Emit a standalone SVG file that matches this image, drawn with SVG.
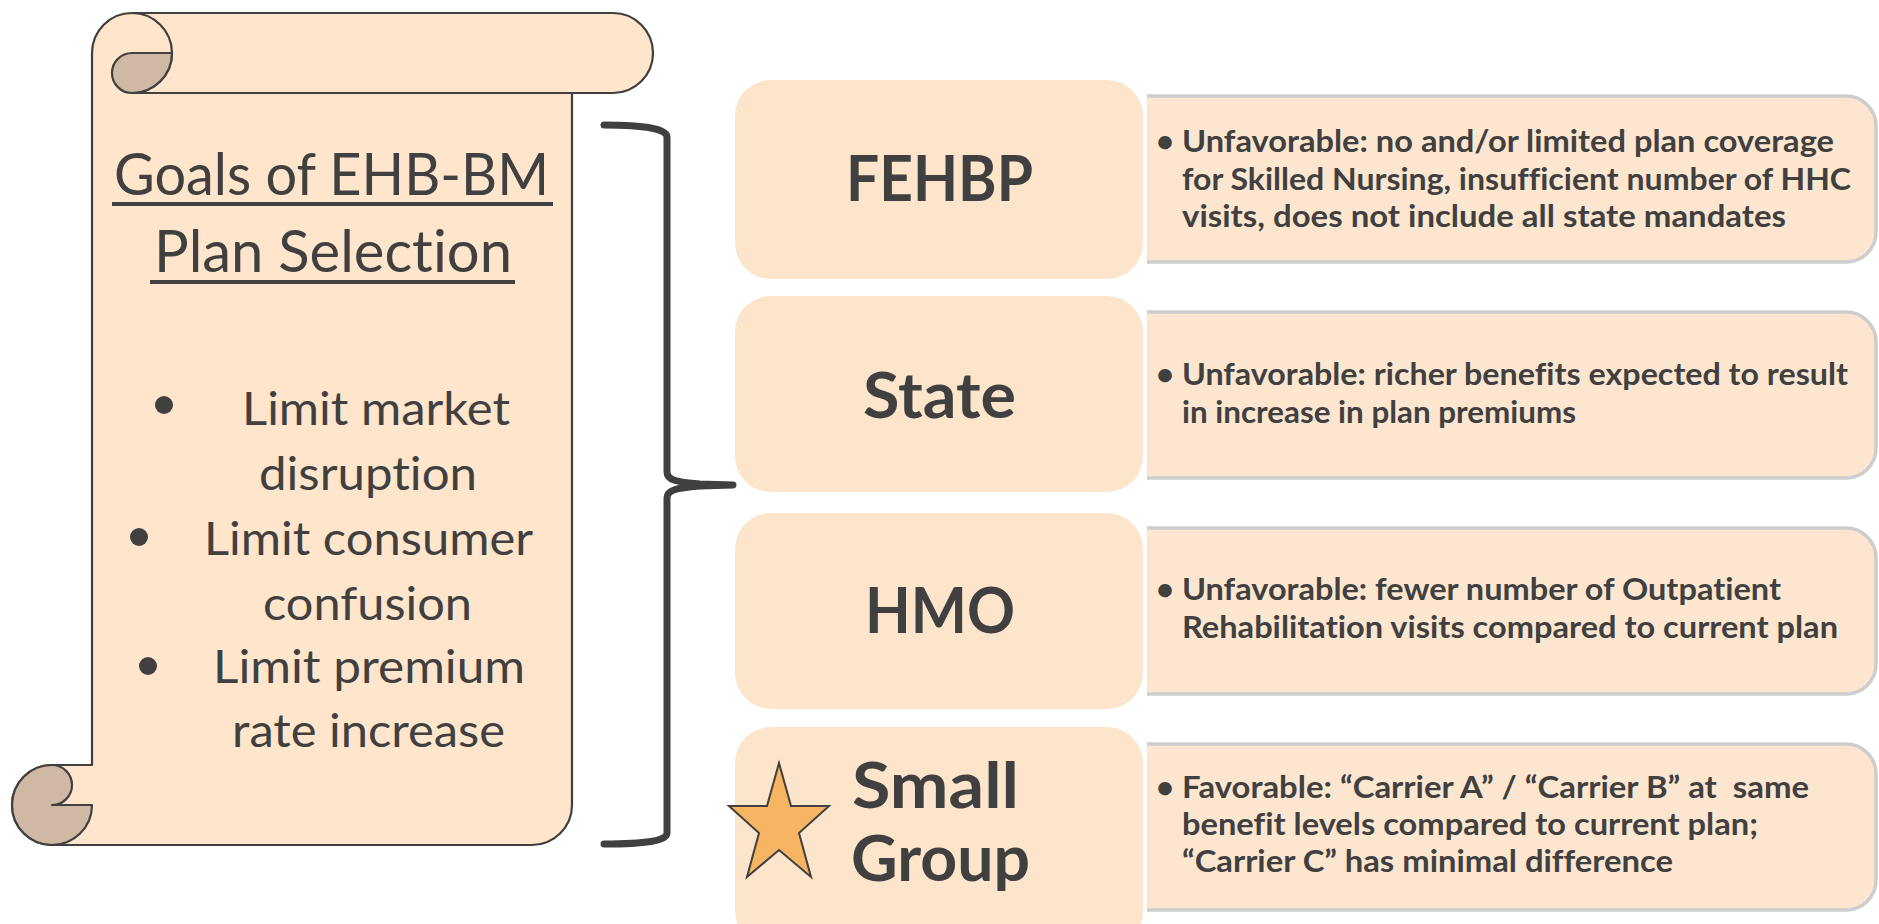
<svg xmlns="http://www.w3.org/2000/svg" width="1879" height="924" viewBox="0 0 1879 924">
<style>
  text{font-variant-ligatures:none;font-feature-settings:"liga" 0,"clig" 0}
  .scroll{fill:#fee5cc;stroke:#404040;stroke-width:2.2;stroke-linejoin:round}
  .curl{fill:#cfb9a5;stroke:#404040;stroke-width:2.2;stroke-linejoin:round}
  .ln{fill:none;stroke:#404040;stroke-width:2.2}
  .title{font-family:Lato,"Liberation Sans",sans-serif;font-size:58px;fill:#404040}
  .goal{font-family:Lato,"Liberation Sans",sans-serif;font-size:46px;fill:#404040}
  .label{font-family:Lato,"Liberation Sans",sans-serif;font-weight:700;font-size:64px;fill:#404040}
  .desc{font-family:Lato,"Liberation Sans",sans-serif;font-weight:700;font-size:31px;fill:#404040}
  .lbox{fill:#fde5cc}
  .tfill{fill:#fde6d0}
  .tedge{fill:none;stroke:#cdcdcd;stroke-width:3.5}
  .brace{fill:none;stroke:#404040;stroke-width:7;stroke-linecap:round;stroke-linejoin:round}
</style>

<g id="scroll">
  <path class="scroll" d="M132,13 L613,13 A40,40 0 0 1 613,93 L572,93 L572,805 A40,40 0 0 1 532,845 L52,845 A40,40 0 0 1 12,805 A40,40 0 0 1 52,765 L92,765 L92,53 A40,40 0 0 1 132,13 Z"/>
  <path class="ln" d="M132,93 L572,93"/>
  <path class="ln" d="M132,13 A40,40 0 0 1 132,93"/>
  <path class="curl" d="M132,53 L172,53 A40,40 0 0 1 132,93 A20,20 0 0 1 132,53 Z"/>
  <path class="curl" d="M52,765 A40,40 0 0 0 52,845 A40,40 0 0 0 92,805 L52,805 A20,20 0 0 0 52,765 Z"/>
  <text class="title" x="114" y="195" textLength="435" lengthAdjust="spacingAndGlyphs">Goals of EHB-BM</text>
  <rect x="112" y="202" width="441" height="4" fill="#404040"/>
  <text class="title" x="154" y="272" textLength="358" lengthAdjust="spacingAndGlyphs">Plan Selection</text>
  <rect x="150" y="280" width="365" height="4" fill="#404040"/>
  <circle cx="164" cy="405" r="9" fill="#404040"/>
  <text class="goal" x="242" y="425" textLength="268" lengthAdjust="spacingAndGlyphs">Limit market</text>
  <text class="goal" x="259" y="490" textLength="218" lengthAdjust="spacingAndGlyphs">disruption</text>
  <circle cx="139" cy="537" r="9" fill="#404040"/>
  <text class="goal" x="204" y="555" textLength="329" lengthAdjust="spacingAndGlyphs">Limit consumer</text>
  <text class="goal" x="263" y="620" textLength="209" lengthAdjust="spacingAndGlyphs">confusion</text>
  <circle cx="148" cy="666" r="9" fill="#404040"/>
  <text class="goal" x="213" y="683" textLength="312" lengthAdjust="spacingAndGlyphs">Limit premium</text>
  <text class="goal" x="232" y="747" textLength="273" lengthAdjust="spacingAndGlyphs">rate increase</text>
</g>

<g id="connectors">
  <path class="brace" d="M604,125 C645,125 667,129 667,137 L667,472 C667,480 676,482 700,484 L733,485 L700,486 C676,488 667,490 667,498 L667,833 C667,841 645,844 604,844"/>
</g>

<g id="fehbp">
  <rect class="lbox" x="735" y="80" width="408" height="199" rx="36" ry="36"/>
  <text class="label" x="846" y="201" textLength="187" lengthAdjust="spacingAndGlyphs">FEHBP</text>
</g>
<g id="fehbp-desc">
  <path class="tfill" d="M1147,96 L1846,96 A30,30 0 0 1 1876,126 L1876,232 A30,30 0 0 1 1846,262 L1147,262 Z"/>
  <path class="tedge" d="M1147,96 L1846,96 A30,30 0 0 1 1876,126 L1876,232 A30,30 0 0 1 1846,262 L1147,262"/>
  <text class="desc" x="1156" y="152">•</text>
  <text class="desc" x="1182" y="152" textLength="652" lengthAdjust="spacingAndGlyphs">Unfavorable: no and/or limited plan coverage</text>
  <text class="desc" x="1182" y="190" textLength="669" lengthAdjust="spacingAndGlyphs">for Skilled Nursing, insufficient number of HHC</text>
  <text class="desc" x="1182" y="227" textLength="604" lengthAdjust="spacingAndGlyphs">visits, does not include all state mandates</text>
</g>

<g id="state">
  <rect class="lbox" x="735" y="296" width="408" height="196" rx="36" ry="36"/>
  <text class="label" x="863" y="418" textLength="153" lengthAdjust="spacingAndGlyphs">State</text>
</g>
<g id="state-desc">
  <path class="tfill" d="M1147,312 L1846,312 A30,30 0 0 1 1876,342 L1876,448 A30,30 0 0 1 1846,478 L1147,478 Z"/>
  <path class="tedge" d="M1147,312 L1846,312 A30,30 0 0 1 1876,342 L1876,448 A30,30 0 0 1 1846,478 L1147,478"/>
  <text class="desc" x="1156" y="385">•</text>
  <text class="desc" x="1182" y="385" textLength="666" lengthAdjust="spacingAndGlyphs">Unfavorable: richer benefits expected to result</text>
  <text class="desc" x="1182" y="423" textLength="394" lengthAdjust="spacingAndGlyphs">in increase in plan premiums</text>
</g>

<g id="hmo">
  <rect class="lbox" x="735" y="513" width="408" height="196" rx="36" ry="36"/>
  <text class="label" x="865" y="633" textLength="150" lengthAdjust="spacingAndGlyphs">HMO</text>
</g>
<g id="hmo-desc">
  <path class="tfill" d="M1147,528 L1846,528 A30,30 0 0 1 1876,558 L1876,664 A30,30 0 0 1 1846,694 L1147,694 Z"/>
  <path class="tedge" d="M1147,528 L1846,528 A30,30 0 0 1 1876,558 L1876,664 A30,30 0 0 1 1846,694 L1147,694"/>
  <text class="desc" x="1156" y="600">•</text>
  <text class="desc" x="1182" y="600" textLength="599" lengthAdjust="spacingAndGlyphs">Unfavorable: fewer number of Outpatient</text>
  <text class="desc" x="1182" y="638" textLength="656" lengthAdjust="spacingAndGlyphs">Rehabilitation visits compared to current plan</text>
</g>

<g id="small-group">
  <rect class="lbox" x="735" y="727" width="408" height="220" rx="36" ry="36"/>
  <polygon points="779,763 791,806 829,806 799,833 811,877 779,850 747,877 759,833 729,806 767,806" fill="#f7b462" stroke="#404040" stroke-width="2" stroke-linejoin="miter"/>
  <text class="label" x="852" y="808" textLength="167" lengthAdjust="spacingAndGlyphs">Small</text>
  <text class="label" x="851" y="881" textLength="179" lengthAdjust="spacingAndGlyphs">Group</text>
</g>
<g id="small-group-desc">
  <path class="tfill" d="M1147,744 L1846,744 A30,30 0 0 1 1876,774 L1876,880 A30,30 0 0 1 1846,910 L1147,910 Z"/>
  <path class="tedge" d="M1147,744 L1846,744 A30,30 0 0 1 1876,774 L1876,880 A30,30 0 0 1 1846,910 L1147,910"/>
  <text class="desc" x="1156" y="798">•</text>
  <text class="desc" x="1182" y="798" textLength="627" lengthAdjust="spacingAndGlyphs" xml:space="preserve">Favorable: “Carrier A” / “Carrier B” at  same</text>
  <text class="desc" x="1182" y="835" textLength="576" lengthAdjust="spacingAndGlyphs">benefit levels compared to current plan;</text>
  <text class="desc" x="1182" y="872" textLength="491" lengthAdjust="spacingAndGlyphs">“Carrier C” has minimal difference</text>
</g>
</svg>
